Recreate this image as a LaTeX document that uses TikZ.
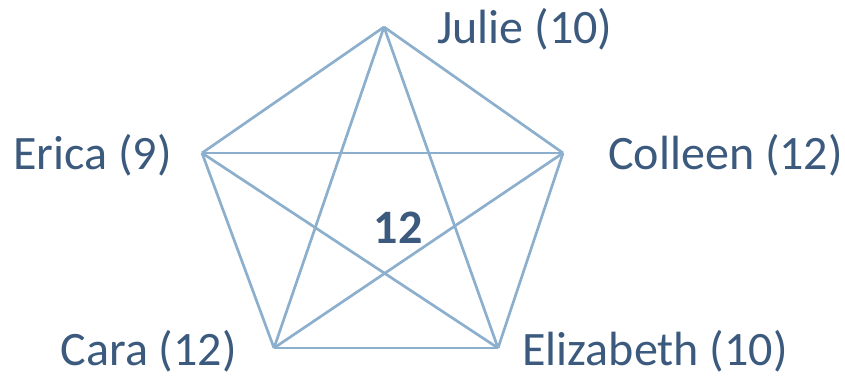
\documentclass[tikz,border=0pt]{standalone}
\usepackage{fontspec}
\setmainfont{Carlito}
\usepackage{xcolor}
\usepackage{tikz}
\usetikzlibrary{positioning}
\definecolor{nametext}{RGB}{59,90,125}
\definecolor{edgeblue}{RGB}{140,175,205}

\begin{document}
\begin{tikzpicture}[x=0.03cm, y=-0.03cm, font=\fontsize{41}{49}\selectfont]
        \useasboundingbox (0,0) rectangle (845,384);
        \coordinate (julie) at (384,27);
        \coordinate (erica) at (202,153);
        \coordinate (colleen) at (563,153);
        \coordinate (cara) at (274,348);
        \coordinate (eliz) at (498,348);

        \foreach \a/\b in {julie/erica, julie/colleen, julie/cara, julie/eliz, erica/colleen, erica/cara, erica/eliz, colleen/cara, colleen/eliz, cara/eliz}
          \draw[edgeblue, line width=2.3pt] (\a) -- (\b);

        \node[anchor=base west, inner sep=0pt, text=nametext] (juliename) at (437,43) {Julie (10)};
        \node[anchor=base east, inner sep=0pt, text=nametext] (ericaname) at (172,169) {Erica (9)};
        \node[anchor=base west, inner sep=0pt, text=nametext] (colleenname) at (608,169) {Colleen (12)};
        \node[anchor=base east, inner sep=0pt, text=nametext] (caraname) at (237,365) {Cara (12)};
        \node[anchor=base west, inner sep=0pt, text=nametext] (elizname) at (522,365) {Elizabeth (10)};
        \node[inner sep=0pt, text=nametext, font=\fontsize{41}{49}\selectfont\bfseries] (total) at (398,228) {12};
      \end{tikzpicture}
\end{document}
